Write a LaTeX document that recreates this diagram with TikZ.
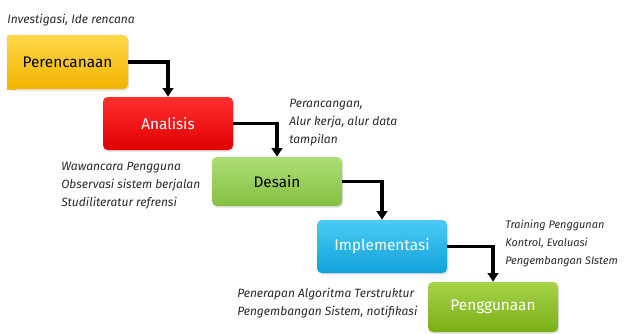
\documentclass[tikz,border=0pt]{standalone}
\usepackage{fontspec}
\setmainfont{Fira Sans}
\usetikzlibrary{arrows.meta,shadows}
\definecolor{yelT}{HTML}{FFD84A}
\definecolor{yelM}{HTML}{FFC400}
\definecolor{yelB}{HTML}{F2B400}
\definecolor{redT}{HTML}{FF3030}
\definecolor{redM}{HTML}{FF0000}
\definecolor{redB}{HTML}{E00000}
\definecolor{grnT}{HTML}{ADDE75}
\definecolor{grnM}{HTML}{95D052}
\definecolor{grnB}{HTML}{84C040}
\definecolor{bluT}{HTML}{4CCBF6}
\definecolor{bluM}{HTML}{1BB3EC}
\definecolor{bluB}{HTML}{0FA2DA}
\definecolor{limT}{HTML}{A6D44A}
\definecolor{limM}{HTML}{8DC21F}
\definecolor{limB}{HTML}{7AAF15}
\definecolor{notegray}{HTML}{2A2A2A}
\begin{document}
\begin{tikzpicture}[x=0.75pt,y=-0.75pt,
  stage/.style={rounded corners=3.5pt, minimum width=97.5pt, minimum height=39.75pt,
    inner sep=0pt, font=\fontsize{11.5}{13}\selectfont,
    drop shadow={opacity=0.25,shadow xshift=0.8pt,shadow yshift=-1.2pt}},
  yelbox/.style={top color=yelT, middle color=yelM, bottom color=yelB},
  redbox/.style={top color=redT, middle color=redM, bottom color=redB, text=white},
  grnbox/.style={top color=grnT, middle color=grnM, bottom color=grnB},
  blubox/.style={top color=bluT, middle color=bluM, bottom color=bluB, text=white},
  limbox/.style={top color=limT, middle color=limM, bottom color=limB, text=white},
  note/.style={anchor=north west, inner sep=0pt, align=left,
    font=\fontsize{9}{13.5}\selectfont\itshape, text=notegray},
  flow/.style={line width=2.4pt, -{Triangle[width=8pt,length=6.5pt]}}]
\useasboundingbox (0,0) rectangle (624,333);

% stages
\node[stage, yelbox, minimum width=90.75pt, minimum height=40.5pt] (p) at (67.5,62) {};
\fill[yelbox] (7,35) rectangle (16,89);
\node[font=\fontsize{11.5}{13}\selectfont] (pt) at (p.center) {Perencanaan};
\node[stage, redbox] (a) at (168,123.5) {Analisis};
\node[stage, grnbox, minimum height=36.75pt] (d) at (277,181.5) {Desain};
\node[stage, blubox] (i) at (382,246.5) {Implementasi};
\node[stage, limbox, minimum height=37.5pt] (g) at (493,307) {Penggunaan};

% connectors
\draw[flow] (p.east) -| (a.north);
\draw[flow] (a.east) -| (d.north);
\draw[flow] (d.east) -| (i.north);
\draw[flow] (i.east) -| (g.north);

% notes
\node[note] (n1) at (7,13.5) {Investigasi, Ide rencana};
\node[note] (n2) at (289,98.5) {Perancangan,\\Alur kerja, alur data\\tampilan};
\node[note] (n3) at (61,162) {Wawancara Pengguna\\Observasi sistem berjalan\\Studiliteratur refrensi};
\node[note, font=\fontsize{8.2}{13.5}\selectfont\itshape] (n4) at (505,220) {Training Penggunan\\Kontrol, Evaluasi\\Pengembangan SIstem};
\node[note] (n5) at (237,287.5) {Penerapan Algoritma Terstruktur\\Pengembangan Sistem, notifikasi};
\end{tikzpicture}
\end{document}
